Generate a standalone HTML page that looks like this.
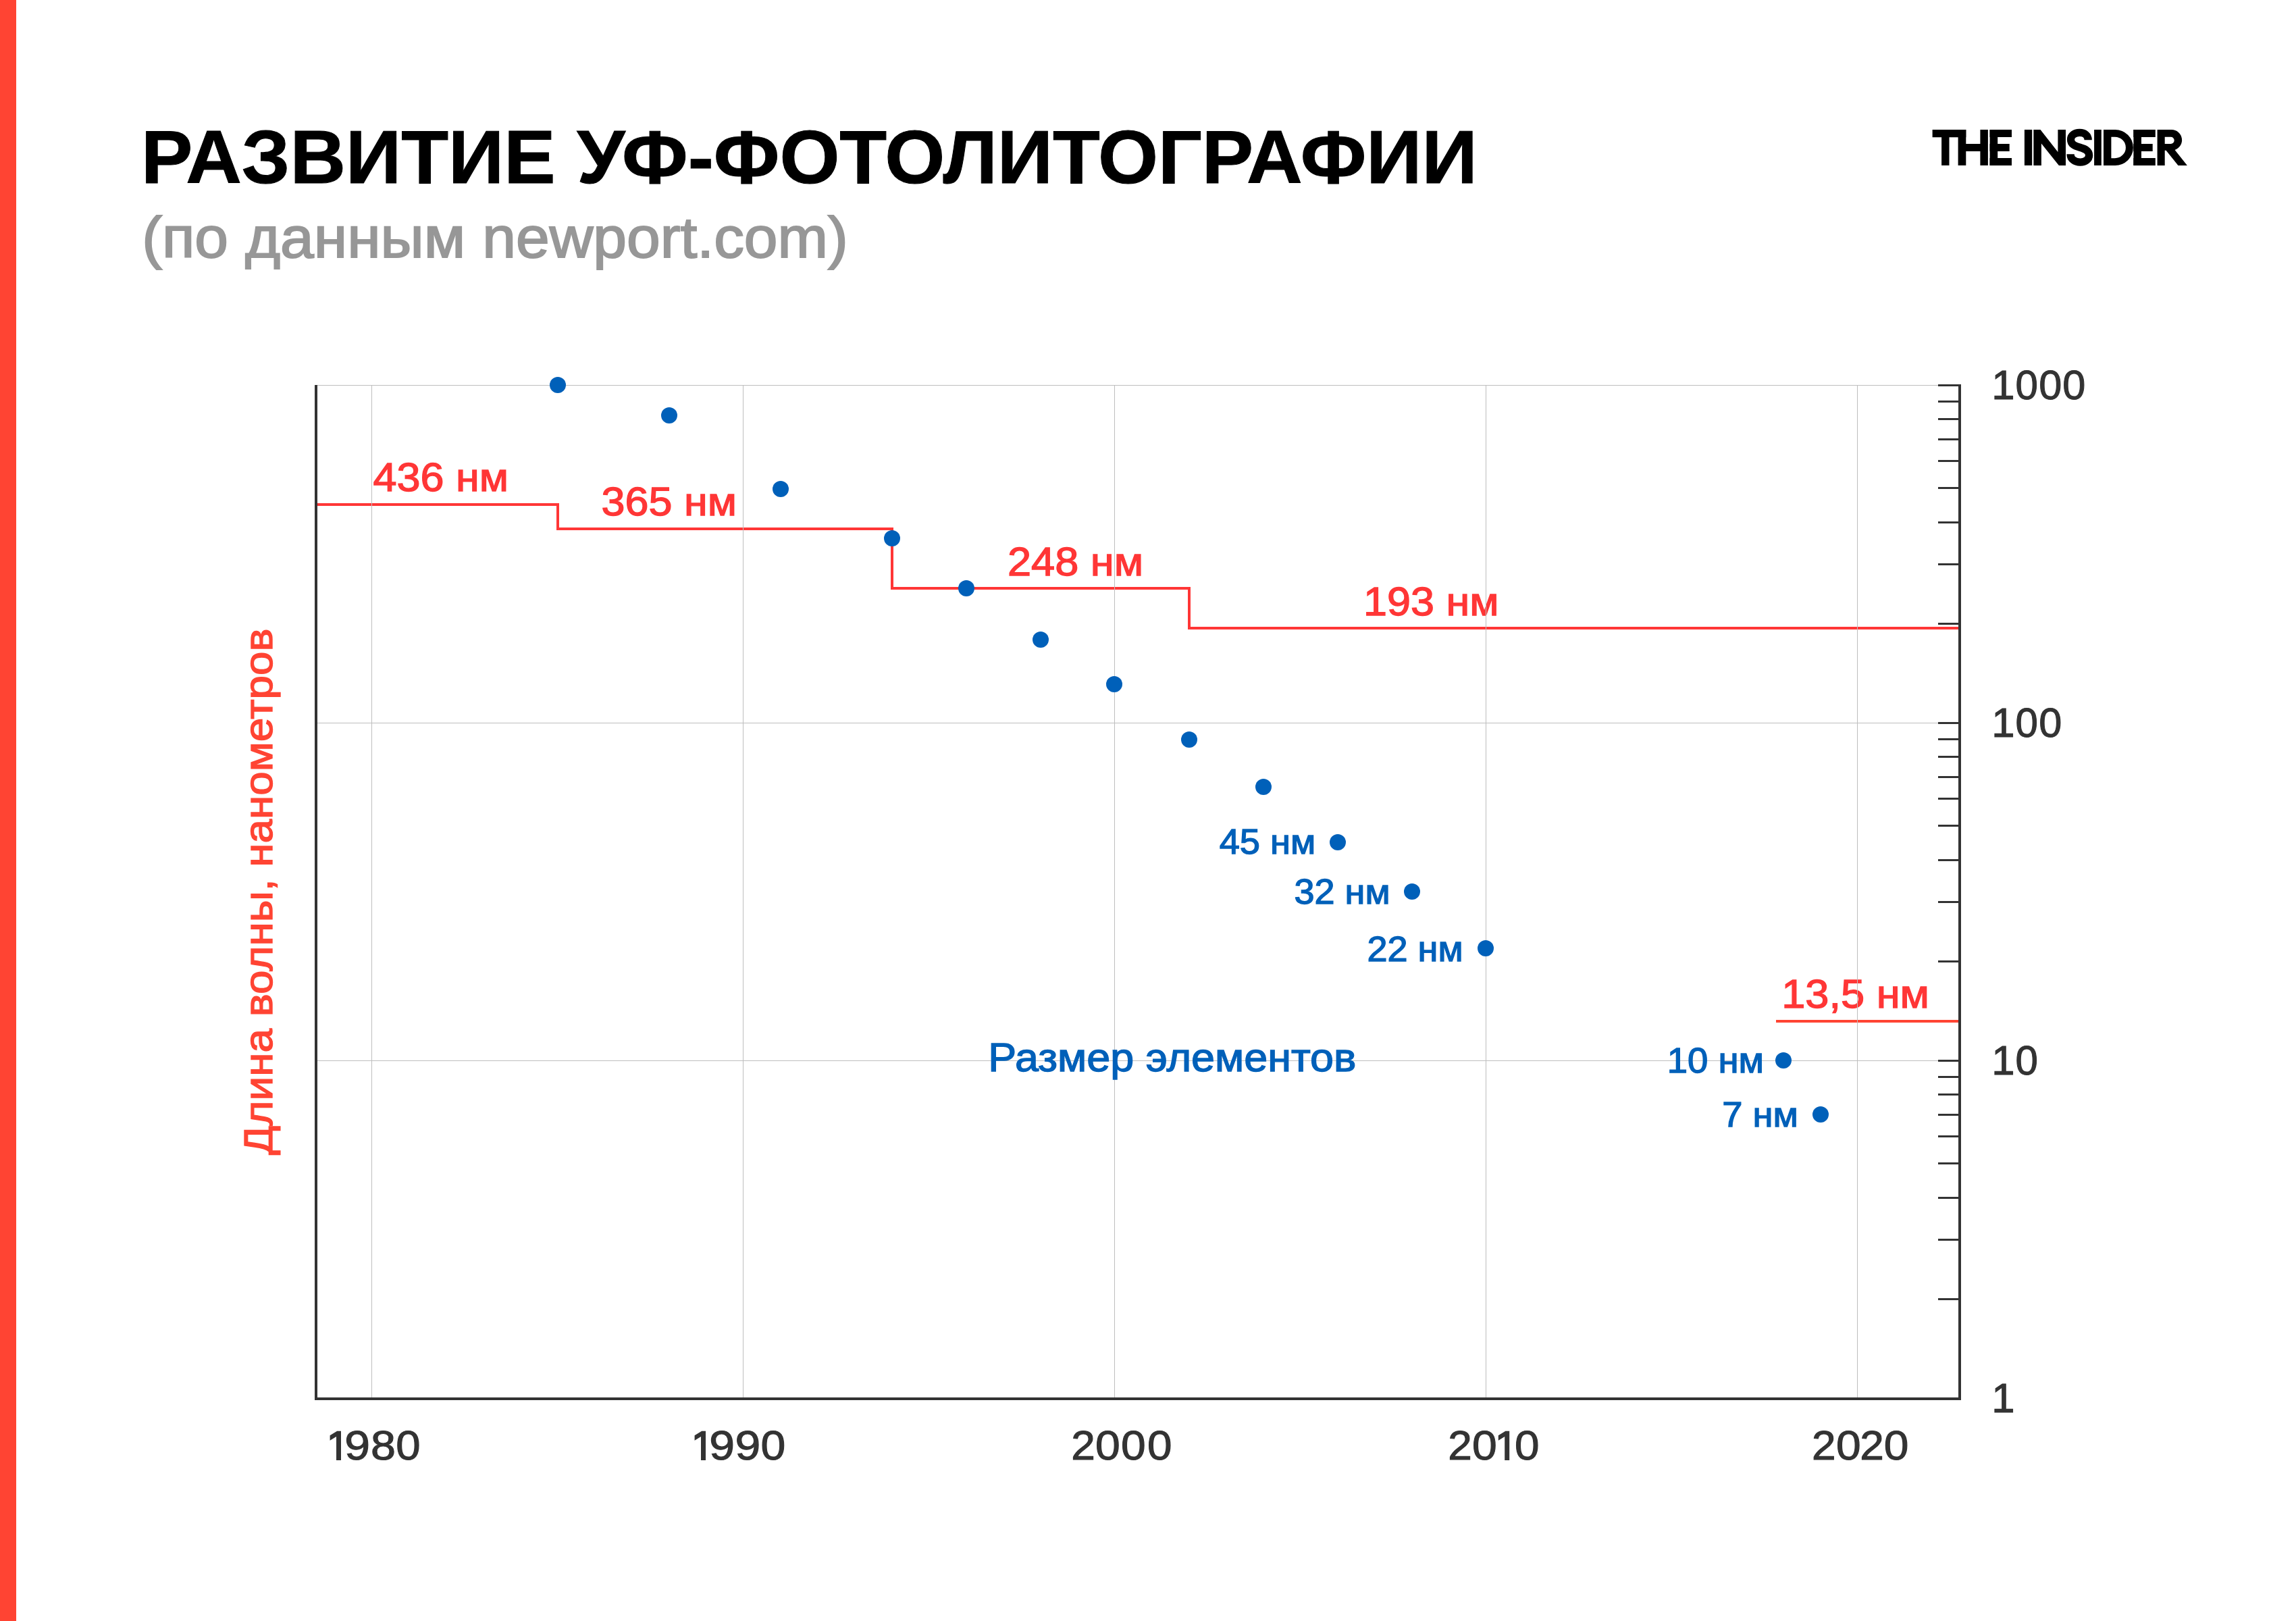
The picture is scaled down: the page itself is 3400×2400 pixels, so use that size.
<!DOCTYPE html>
<html lang="ru"><head><meta charset="utf-8"><title>Развитие УФ-фотолитографии</title>
<style>
html,body{margin:0;padding:0;background:#fff;}
body{width:3400px;height:2400px;position:relative;overflow:hidden;font-family:"Liberation Sans",sans-serif;}
</style></head><body>
<svg width="3400" height="2400" viewBox="0 0 3400 2400" style="position:absolute;left:0;top:0;display:block" font-family="'Liberation Sans', sans-serif">
<rect x="0" y="0" width="3400" height="2400" fill="#fff"/>
<rect x="0" y="0" width="24" height="2400" fill="#ff4433"/>
<text transform="translate(208.93,271.20) scale(1.0249,1)" font-size="111.6" font-weight="bold" fill="#000" stroke="#000" stroke-width="1.0" stroke-linejoin="miter">РАЗВИТИЕ УФ-ФОТОЛИТОГРАФИИ</text>
<text transform="translate(210.15,381.22) scale(1.0553,1)" font-size="84.75" font-weight="normal" fill="#979797" stroke="#979797" stroke-width="1.95" stroke-linejoin="miter">(по данным newport.com)</text>
<g fill="#ff3636" shape-rendering="crispEdges">
<rect x="470" y="745" width="358" height="4"/>
<rect x="824" y="745" width="4" height="40"/>
<rect x="824" y="781" width="499" height="4"/>
<rect x="1319" y="781" width="4" height="92"/>
<rect x="1319" y="869" width="444" height="4"/>
<rect x="1759" y="869" width="4" height="63"/>
<rect x="1759" y="928" width="1141" height="4"/>
</g>
<rect x="2630" y="1510" width="270" height="4" fill="#ff4433" shape-rendering="crispEdges"/>
<text transform="translate(552.47,727.32) scale(1.0622,1)" font-size="59.3" font-weight="normal" fill="#ff3636" stroke="#ff3636" stroke-width="1.36" stroke-linejoin="miter">436 нм</text>
<text transform="translate(890.61,763.22) scale(1.0609,1)" font-size="59.3" font-weight="normal" fill="#ff3636" stroke="#ff3636" stroke-width="1.36" stroke-linejoin="miter">365 нм</text>
<text transform="translate(1491.94,851.62) scale(1.0650,1)" font-size="59.3" font-weight="normal" fill="#ff3636" stroke="#ff3636" stroke-width="1.36" stroke-linejoin="miter">248 нм</text>
<text transform="translate(2018.96,910.62) scale(1.0612,1)" font-size="59.3" font-weight="normal" fill="#ff3636" stroke="#ff3636" stroke-width="1.36" stroke-linejoin="miter">193 нм</text>
<text transform="translate(2638.24,1492.12) scale(1.0652,1)" font-size="59.3" font-weight="normal" fill="#ff3636" stroke="#ff3636" stroke-width="1.36" stroke-linejoin="miter">13,5 нм</text>
<g fill="#bebebe" shape-rendering="crispEdges">
<rect x="550" y="570" width="1" height="1500"/>
<rect x="1100" y="570" width="1" height="1500"/>
<rect x="1650" y="570" width="1" height="1500"/>
<rect x="2200" y="570" width="1" height="1500"/>
<rect x="2750" y="570" width="1" height="1500"/>
<rect x="470" y="570" width="2430" height="1"/>
<rect x="470" y="1070" width="2430" height="1"/>
<rect x="470" y="1570" width="2430" height="1"/>
</g>
<g fill="#333333" shape-rendering="crispEdges">
<rect x="466" y="570" width="4" height="1503"/>
<rect x="2900" y="569" width="4" height="1504"/>
<rect x="466" y="2069" width="2438" height="4"/>
<rect x="2870" y="569" width="30" height="3"/>
<rect x="2870" y="593" width="30" height="3"/>
<rect x="2870" y="619" width="30" height="3"/>
<rect x="2870" y="649" width="30" height="3"/>
<rect x="2870" y="681" width="30" height="3"/>
<rect x="2870" y="721" width="30" height="3"/>
<rect x="2870" y="772" width="30" height="3"/>
<rect x="2870" y="834" width="30" height="3"/>
<rect x="2870" y="922" width="30" height="3"/>
<rect x="2870" y="1069" width="30" height="3"/>
<rect x="2870" y="1093" width="30" height="3"/>
<rect x="2870" y="1119" width="30" height="3"/>
<rect x="2870" y="1149" width="30" height="3"/>
<rect x="2870" y="1181" width="30" height="3"/>
<rect x="2870" y="1221" width="30" height="3"/>
<rect x="2870" y="1272" width="30" height="3"/>
<rect x="2870" y="1334" width="30" height="3"/>
<rect x="2870" y="1422" width="30" height="3"/>
<rect x="2870" y="1569" width="30" height="3"/>
<rect x="2870" y="1593" width="30" height="3"/>
<rect x="2870" y="1619" width="30" height="3"/>
<rect x="2870" y="1649" width="30" height="3"/>
<rect x="2870" y="1681" width="30" height="3"/>
<rect x="2870" y="1721" width="30" height="3"/>
<rect x="2870" y="1772" width="30" height="3"/>
<rect x="2870" y="1834" width="30" height="3"/>
<rect x="2870" y="1922" width="30" height="3"/>
</g>
<g fill="#0060b9">
<circle cx="826" cy="570.0" r="12"/>
<circle cx="991" cy="615.0" r="12"/>
<circle cx="1156" cy="724.0" r="12"/>
<circle cx="1321" cy="797.0" r="12"/>
<circle cx="1431" cy="871.0" r="12"/>
<circle cx="1541" cy="947.0" r="12"/>
<circle cx="1650" cy="1013.0" r="12"/>
<circle cx="1761" cy="1095.0" r="12"/>
<circle cx="1871" cy="1165.0" r="12"/>
<circle cx="1981" cy="1247.0" r="12"/>
<circle cx="2091" cy="1320.0" r="12"/>
<circle cx="2200" cy="1404.0" r="12"/>
<circle cx="2641" cy="1570.0" r="12"/>
<circle cx="2696" cy="1650.0" r="12"/>
</g>
<text transform="translate(1805.67,1264.42) scale(1.0530,1)" font-size="51.5" font-weight="normal" fill="#0060b9" stroke="#0060b9" stroke-width="1.35" stroke-linejoin="miter">45 нм</text>
<text transform="translate(1916.43,1338.12) scale(1.0496,1)" font-size="51.5" font-weight="normal" fill="#0060b9" stroke="#0060b9" stroke-width="1.35" stroke-linejoin="miter">32 нм</text>
<text transform="translate(2024.40,1422.53) scale(1.0506,1)" font-size="51.5" font-weight="normal" fill="#0060b9" stroke="#0060b9" stroke-width="1.35" stroke-linejoin="miter">22 нм</text>
<text transform="translate(2468.69,1588.23) scale(1.0589,1)" font-size="51.5" font-weight="normal" fill="#0060b9" stroke="#0060b9" stroke-width="1.35" stroke-linejoin="miter">10 нм</text>
<text transform="translate(2550.19,1667.92) scale(1.0559,1)" font-size="51.5" font-weight="normal" fill="#0060b9" stroke="#0060b9" stroke-width="1.35" stroke-linejoin="miter">7 нм</text>
<text transform="translate(1463.18,1585.82) scale(1.0550,1)" font-size="59.6" font-weight="normal" fill="#0060b9" stroke="#0060b9" stroke-width="1.37" stroke-linejoin="miter">Размер элементов</text>
<text transform="translate(403.31,1710.00) rotate(-90) scale(1.0653,1)" font-size="60.0" fill="#ff4433" stroke="#ff4433" stroke-width="1.38" stroke-linejoin="miter">Длина волны, нанометров</text>
<polygon points="505.00,2118.70 499.20,2118.70 488.60,2125.30 488.60,2132.70 498.00,2126.90 498.00,2162.00 505.00,2162.00" fill="#333333"/>
<text transform="translate(510.34,2161.45) scale(1.1242,1)" font-size="60.4" fill="#333333" stroke="#333333" stroke-width="1.1" stroke-linejoin="miter">9</text>
<text transform="translate(549.02,2161.45) scale(1.1005,1)" font-size="60.4" fill="#333333" stroke="#333333" stroke-width="1.1" stroke-linejoin="miter">8</text>
<text transform="translate(586.14,2161.45) scale(1.0810,1)" font-size="60.4" fill="#333333" stroke="#333333" stroke-width="1.1" stroke-linejoin="miter">0</text>
<polygon points="1045.00,2118.70 1039.20,2118.70 1028.60,2125.30 1028.60,2132.70 1038.00,2126.90 1038.00,2162.00 1045.00,2162.00" fill="#333333"/>
<text transform="translate(1050.34,2161.45) scale(1.1242,1)" font-size="60.4" fill="#333333" stroke="#333333" stroke-width="1.1" stroke-linejoin="miter">9</text>
<text transform="translate(1088.44,2161.45) scale(1.1242,1)" font-size="60.4" fill="#333333" stroke="#333333" stroke-width="1.1" stroke-linejoin="miter">9</text>
<text transform="translate(1126.62,2161.45) scale(1.0943,1)" font-size="60.4" fill="#333333" stroke="#333333" stroke-width="1.1" stroke-linejoin="miter">0</text>
<text transform="translate(1586.17,2161.45) scale(1.0588,1)" font-size="60.4" fill="#333333" stroke="#333333" stroke-width="1.1" stroke-linejoin="miter">2</text>
<text transform="translate(1622.02,2161.45) scale(1.0943,1)" font-size="60.4" fill="#333333" stroke="#333333" stroke-width="1.1" stroke-linejoin="miter">0</text>
<text transform="translate(1660.03,2161.45) scale(1.0910,1)" font-size="60.4" fill="#333333" stroke="#333333" stroke-width="1.1" stroke-linejoin="miter">0</text>
<text transform="translate(1699.03,2161.45) scale(1.0877,1)" font-size="60.4" fill="#333333" stroke="#333333" stroke-width="1.1" stroke-linejoin="miter">0</text>
<text transform="translate(2144.27,2161.45) scale(1.0588,1)" font-size="60.4" fill="#333333" stroke="#333333" stroke-width="1.1" stroke-linejoin="miter">2</text>
<text transform="translate(2179.92,2161.45) scale(1.0943,1)" font-size="60.4" fill="#333333" stroke="#333333" stroke-width="1.1" stroke-linejoin="miter">0</text>
<polygon points="2235.20,2118.70 2229.40,2118.70 2218.80,2125.30 2218.80,2132.70 2228.20,2126.90 2228.20,2162.00 2235.20,2162.00" fill="#333333"/>
<text transform="translate(2243.03,2161.45) scale(1.0877,1)" font-size="60.4" fill="#333333" stroke="#333333" stroke-width="1.1" stroke-linejoin="miter">0</text>
<text transform="translate(2683.07,2161.45) scale(1.0588,1)" font-size="60.4" fill="#333333" stroke="#333333" stroke-width="1.1" stroke-linejoin="miter">2</text>
<text transform="translate(2718.93,2161.45) scale(1.0910,1)" font-size="60.4" fill="#333333" stroke="#333333" stroke-width="1.1" stroke-linejoin="miter">0</text>
<text transform="translate(2754.17,2161.45) scale(1.0588,1)" font-size="60.4" fill="#333333" stroke="#333333" stroke-width="1.1" stroke-linejoin="miter">2</text>
<text transform="translate(2789.83,2161.45) scale(1.0910,1)" font-size="60.4" fill="#333333" stroke="#333333" stroke-width="1.1" stroke-linejoin="miter">0</text>
<text transform="translate(2949.17,590.75) scale(1.0206,1)" font-size="60.4" fill="#333333" stroke="#333333" stroke-width="1.1" stroke-linejoin="miter">1</text>
<text transform="translate(2984.40,590.75) scale(0.9942,1)" font-size="60.4" fill="#333333" stroke="#333333" stroke-width="1.1" stroke-linejoin="miter">0</text>
<text transform="translate(3019.36,590.75) scale(1.0143,1)" font-size="60.4" fill="#333333" stroke="#333333" stroke-width="1.1" stroke-linejoin="miter">0</text>
<text transform="translate(3054.36,590.75) scale(1.0143,1)" font-size="60.4" fill="#333333" stroke="#333333" stroke-width="1.1" stroke-linejoin="miter">0</text>
<text transform="translate(2949.17,1090.75) scale(1.0206,1)" font-size="60.4" fill="#333333" stroke="#333333" stroke-width="1.1" stroke-linejoin="miter">1</text>
<text transform="translate(2984.40,1090.75) scale(0.9942,1)" font-size="60.4" fill="#333333" stroke="#333333" stroke-width="1.1" stroke-linejoin="miter">0</text>
<text transform="translate(3019.36,1090.75) scale(1.0143,1)" font-size="60.4" fill="#333333" stroke="#333333" stroke-width="1.1" stroke-linejoin="miter">0</text>
<text transform="translate(2949.17,1590.75) scale(1.0206,1)" font-size="60.4" fill="#333333" stroke="#333333" stroke-width="1.1" stroke-linejoin="miter">1</text>
<text transform="translate(2984.40,1590.75) scale(0.9942,1)" font-size="60.4" fill="#333333" stroke="#333333" stroke-width="1.1" stroke-linejoin="miter">0</text>
<text transform="translate(2949.17,2090.75) scale(1.0206,1)" font-size="60.4" fill="#333333" stroke="#333333" stroke-width="1.1" stroke-linejoin="miter">1</text>
<path d="M2861.60 192.00H2911.30V203.20H2861.60Z" fill="#000" fill-rule="evenodd"/>
<path d="M2875.10 192.00H2886.50V244.90H2875.10Z" fill="#000" fill-rule="evenodd"/>
<path d="M2899.60 192.00H2911.30V244.90H2899.60Z" fill="#000" fill-rule="evenodd"/>
<path d="M2932.40 192.00H2943.90V244.90H2932.40Z" fill="#000" fill-rule="evenodd"/>
<path d="M2905.00 213.00H2938.00V224.00H2905.00Z" fill="#000" fill-rule="evenodd"/>
<path d="M2946.60 192.00H2958.20V244.90H2946.60Z" fill="#000" fill-rule="evenodd"/>
<path d="M2946.60 192.00H2979.00V203.00H2946.60Z" fill="#000" fill-rule="evenodd"/>
<path d="M2946.60 213.00H2975.70V224.00H2946.60Z" fill="#000" fill-rule="evenodd"/>
<path d="M2946.60 234.00H2979.00V244.90H2946.60Z" fill="#000" fill-rule="evenodd"/>
<path d="M2997.90 192.00H3009.20V244.90H2997.90Z" fill="#000" fill-rule="evenodd"/>
<path d="M3011.4 192.0H3021.5L3047.4 224.9V192.0H3059V244.9H3048.9L3022.9 212.4V244.9H3011.4Z" fill="#000" fill-rule="evenodd"/>
<path d="M3101.10 192.00H3111.80V244.90H3101.10Z" fill="#000" fill-rule="evenodd"/>
<path d="M3115 192.0H3132.2A26.7 26.45 0 0 1 3132.2 244.9H3115Z M3126.4 202.7V234.2H3131.8A16.1 15.75 0 0 0 3131.8 202.7Z" fill="#000" fill-rule="evenodd"/>
<path d="M3159.40 192.00H3171.00V244.90H3159.40Z" fill="#000" fill-rule="evenodd"/>
<path d="M3159.40 192.00H3191.80V203.00H3159.40Z" fill="#000" fill-rule="evenodd"/>
<path d="M3159.40 213.00H3187.70V224.00H3159.40Z" fill="#000" fill-rule="evenodd"/>
<path d="M3159.40 234.00H3191.80V244.90H3159.40Z" fill="#000" fill-rule="evenodd"/>
<path d="M3194.6 192.0H3215.8A15.4 15.4 0 0 1 3220.6 222L3238.9 244.9H3225.5L3207.6 222.8H3205.7V244.9H3194.6Z M3205.7 202.7H3214.6A5.1 5.1 0 0 1 3214.6 212.9H3205.7Z" fill="#000" fill-rule="evenodd"/>
<path d="M3092.2 207.2C3092.2 200.5 3087 196.4 3079.5 196.4C3072 196.4 3066.5 200.5 3066.5 206.5C3066.5 214 3073 216.3 3080 218.3C3087.5 220.5 3093.6 223 3093.6 230C3093.6 236 3088 240.1 3080.5 240.1C3072.5 240.1 3066 235.5 3066 228.2" fill="none" stroke="#000" stroke-width="11.3"/>
</svg>
</body></html>
